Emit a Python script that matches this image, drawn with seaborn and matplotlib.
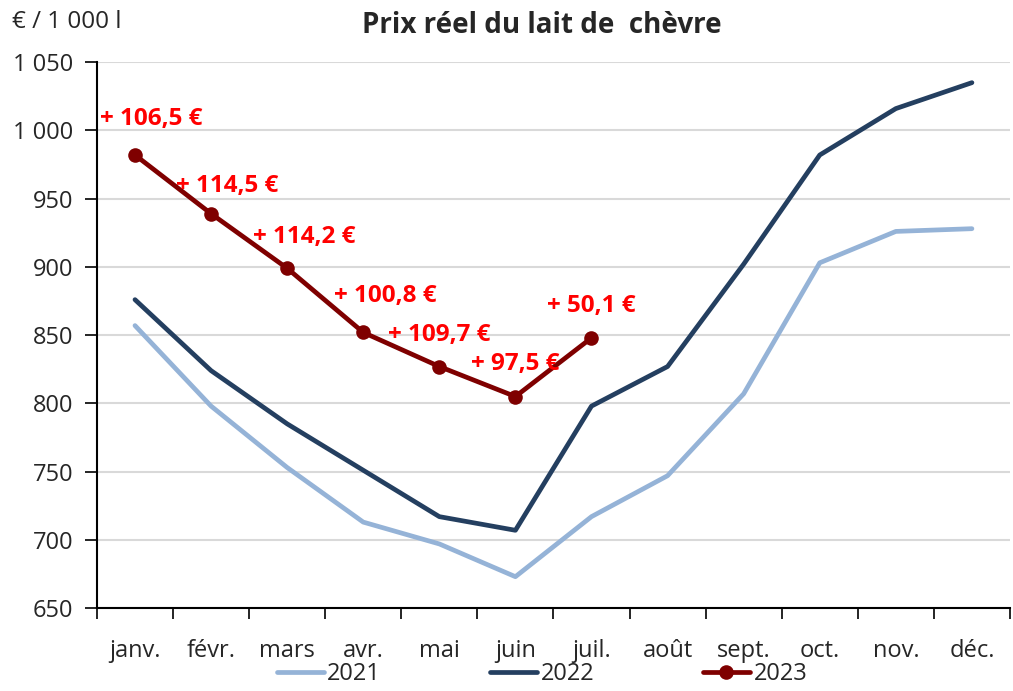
import pandas as pd
import numpy as np
import matplotlib.pyplot as plt
import seaborn as sns
from matplotlib.ticker import FixedLocator, FuncFormatter

# données
mois = ["janv.", "févr.", "mars", "avr.", "mai", "juin", "juil.", "août", "sept.", "oct.", "nov.", "déc."]
prix_2021 = [857, 798, 753, 713, 697, 673, 717, 747, 807, 903, 926, 928]
prix_2022 = [876, 824, 785, 751, 717, 707, 798, 827, 902, 982, 1016, 1035]
prix_2023 = [982, 939, 899, 852, 827, 805, 848]
ecarts_2023 = ["+ 106,5 €", "+ 114,5 €", "+ 114,2 €", "+ 100,8 €", "+ 109,7 €", "+ 97,5 €", "+ 50,1 €"]

sns.set_style("white")
plt.rcParams["font.family"] = ["Open Sans", "DejaVu Sans"]

df = pd.DataFrame({
    "mois": mois * 2 + mois[:len(prix_2023)],
    "prix": prix_2021 + prix_2022 + prix_2023,
    "annee": ["2021"] * 12 + ["2022"] * 12 + ["2023"] * len(prix_2023),
})
df["x"] = df["mois"].map({m: i for i, m in enumerate(mois)})

couleurs = {"2021": "#95b3d7", "2022": "#243f60", "2023": "#7f0000"}

fig = plt.figure(figsize=(10.13, 6.91), dpi=100)
ax = fig.add_axes([0.0957, 0.12, 0.9013, 0.79])

for an in ["2021", "2022", "2023"]:
    sub = df[df["annee"] == an]
    sns.lineplot(data=sub, x="x", y="prix", ax=ax, color=couleurs[an], linewidth=3.4,
                 label=an, marker="o" if an == "2023" else None,
                 markersize=10.5 if an == "2023" else 0, solid_capstyle="round",
                 markeredgewidth=0)

# étiquettes des écarts (décalages en pixels)
decalages = [(16, 36), (16, 28), (17, 31), (22, 36), (0, 32), (0, 33), (0, 32)]
for i, (v, t) in enumerate(zip(prix_2023, ecarts_2023)):
    dx, dy = decalages[i]
    ax.annotate(t, (i, v), xytext=(dx * 0.72, dy * 0.72), textcoords="offset points",
                ha="center", va="center", color="#ff0000", fontsize=17.5, fontweight="bold")

ax.set_ylim(650, 1050)
ax.set_xlim(-0.5, 11.5)
ax.yaxis.set_major_locator(FixedLocator(np.arange(650, 1051, 50)))
ax.yaxis.set_major_formatter(FuncFormatter(lambda v, p: f"{int(v):,}".replace(",", " ")))
ax.xaxis.set_major_locator(FixedLocator(np.arange(-0.5, 12, 1)))
ax.xaxis.set_major_formatter(FuncFormatter(lambda v, p: ""))
ax.xaxis.set_minor_locator(FixedLocator(np.arange(12)))
ax.set_xticklabels(mois, minor=True)
ax.tick_params(axis="x", which="major", length=8, width=1.2, color="black", direction="out", bottom=True)
ax.tick_params(axis="x", which="minor", length=0, pad=22, labelsize=17)
ax.tick_params(axis="y", length=9, width=1.2, color="black", direction="out", left=True,
               labelsize=17, pad=8)
ax.grid(axis="y", color="#d9d9d9", linewidth=1.5)
ax.set_axisbelow(True)
for s in ["top", "right"]:
    ax.spines[s].set_visible(False)
for s in ["left", "bottom"]:
    ax.spines[s].set_color("black")
    ax.spines[s].set_linewidth(1.5)
ax.set_xlabel("")
ax.set_ylabel("")

fig.text(0.535, 0.963, "Prix réel du lait de  chèvre", ha="center", va="center",
         fontsize=20, fontweight="bold")
fig.text(0.012, 0.968, "€ / 1 000 l", ha="left", va="center", fontsize=17.5)

ax.legend(loc="center", bbox_to_anchor=(0.535, 0.024), bbox_transform=fig.transFigure,
          ncol=3, frameon=False, fontsize=17, handlelength=2.0, handletextpad=0.15,
          columnspacing=4.6, borderpad=0)

plt.savefig("out.png", dpi=100)
plt.close()
